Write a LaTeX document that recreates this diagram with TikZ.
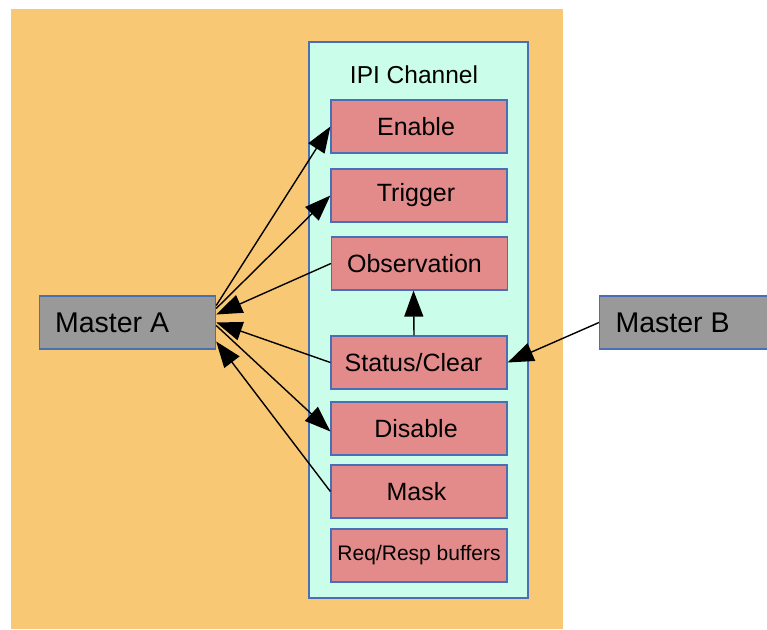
\documentclass[tikz,border=0pt]{standalone}
\usepackage{fontspec}
\setmainfont{Liberation Sans}
\usetikzlibrary{arrows.meta}
\definecolor{bgor}{HTML}{F9C874}
\definecolor{chan}{HTML}{CBFDEB}
\definecolor{regc}{HTML}{E38B8A}
\definecolor{bord}{HTML}{4A6FB5}
\definecolor{mgrey}{HTML}{999999}
\tikzset{
  regbox/.style={draw=bord, line width=1.2pt, fill=regc, minimum width=176pt, minimum height=53pt, inner sep=0pt, font=\fontsize{25}{28}\selectfont},
  masterbox/.style={draw=bord, line width=1.2pt, fill=mgrey, minimum width=176pt, minimum height=53pt, inner sep=0pt, font=\fontsize{28.5}{32}\selectfont},
  conn/.style={line width=1.4pt, -{Triangle[length=26pt,width=19pt]}},
}
\begin{document}
\begin{tikzpicture}[x=1pt,y=-1pt]
\useasboundingbox (0,0) rectangle (767,629);
\fill[bgor] (11,9) rectangle (563,629);
\draw[draw=bord, line width=1.2pt, fill=chan] (309,42) rectangle (528,598);
\node[font=\fontsize{24.5}{28}\selectfont] (title) at (414,75) {IPI Channel};
\node[regbox] (en) at (419,126.5) {\hspace*{-6pt}\raisebox{-1pt}{Enable}};
\node[regbox] (tr) at (419,195.5) {\hspace*{-6pt}\raisebox{-1pt}{Trigger}};
\node[regbox] (ob) at (419.5,263.5) {\hspace*{-10pt}\raisebox{-1pt}{Observation}};
\node[regbox] (st) at (419,362.5) {\hspace*{-11pt}\raisebox{-1pt}{Status/Clear}};
\node[regbox] (di) at (419,428.5) {\hspace*{-6pt}\raisebox{-1pt}{Disable}};
\node[regbox] (ma) at (419,491.5) {\hspace*{-5pt}\raisebox{-1pt}{Mask}};
\node[regbox, font=\fontsize{21}{24}\selectfont] (rq) at (419,555.5) {Req/Resp buffers};
\node[masterbox, anchor=west] (A) at (39,322.5) {\hspace*{-31pt}Master A};
\begin{scope}
\clip (0,0) rectangle (767,629);
\node[masterbox, anchor=west] (B) at (599,322.5) {\hspace*{-30pt}Master B};
\end{scope}
\draw[conn] ([yshift=17pt]A.east) -- (en.west);
\draw[conn] ([yshift=14pt]A.east) -- (tr.west);
\draw[conn] (ob.west) -- ([yshift=8pt]A.east);
\draw[conn] (st.west) -- ([yshift=0pt]A.east);
\draw[conn] ([yshift=-3pt]A.east) -- ([yshift=-3pt]di.west);
\draw[conn] (ma.west) -- ([yshift=-19pt]A.east);
\draw[conn] ([xshift=-5pt]st.north) -- ([xshift=-6pt]ob.south);
\draw[conn] (B.west) -- (st.east);
\end{tikzpicture}
\end{document}
